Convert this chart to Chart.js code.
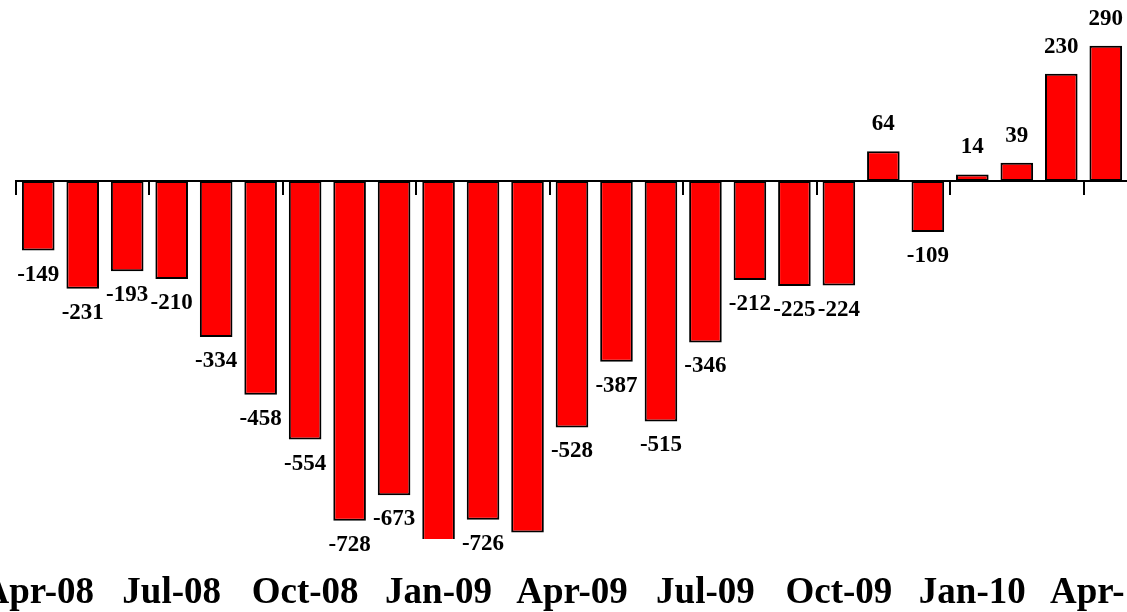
<!DOCTYPE html>
<html>
<head>
<meta charset="utf-8">
<script src="https://cdn.jsdelivr.net/npm/chart.js@4/dist/chart.umd.min.js"></script>
<style>
  html, body { margin: 0; padding: 0; background: #fff; overflow: hidden; }
  #wrap { position: relative; width: 1130px; height: 612px; }
</style>
</head>
<body>
<div id="wrap"><canvas id="c"></canvas></div>
<script>
// Monthly change (thousands)
const months = ['Apr-08','May-08','Jun-08','Jul-08','Aug-08','Sep-08','Oct-08','Nov-08','Dec-08',
  'Jan-09','Feb-09','Mar-09','Apr-09','May-09','Jun-09','Jul-09','Aug-09','Sep-09','Oct-09',
  'Nov-09','Dec-09','Jan-10','Feb-10','Mar-10','Apr-10'];
const values = [-149,-231,-193,-210,-334,-458,-554,-728,-673,
  -779,-726,-753,-528,-387,-515,-346,-212,-225,-224,
  64,-109,14,39,230,290];
// value labels not shown in the original (bars running past the bottom)
const hiddenValueLabels = ['Jan-09','Mar-09'];
const tickLabels = ['Apr-08','Jul-08','Oct-08','Jan-09','Apr-09','Jul-09','Oct-09','Jan-10','Apr-10'];
const yMin = -767, yMax = 388;

const valueLabelPlugin = {
  id: 'valueLabels',
  afterDatasetsDraw(chart) {
    const ctx = chart.ctx;
    const meta = chart.getDatasetMeta(0);
    ctx.save();
    ctx.font = 'bold 23px "Liberation Serif", "Times New Roman", serif';
    ctx.fillStyle = '#000';
    ctx.textAlign = 'center';
    ctx.textBaseline = 'middle';
    meta.data.forEach((bar, i) => {
      if (hiddenValueLabels.includes(months[i])) return;
      const v = values[i];
      const y = v < 0 ? bar.y + 24 : bar.y - 27;
      ctx.fillText(String(v), bar.x, y);
    });
    ctx.restore();
  }
};

const axisLabelPlugin = {
  id: 'axisLabels',
  afterDraw(chart) {
    const ctx = chart.ctx;
    const xs = chart.scales.x;
    ctx.save();
    ctx.font = 'bold 37px "Liberation Serif", "Times New Roman", serif';
    ctx.fillStyle = '#000';
    ctx.textAlign = 'center';
    ctx.textBaseline = 'alphabetic';
    tickLabels.forEach(lbl => {
      const idx = months.indexOf(lbl);
      ctx.fillText(lbl, xs.getPixelForValue(idx), 603);
    });
    ctx.restore();
  }
};

new Chart(document.getElementById('c'), {
  type: 'bar',
  data: {
    labels: months,
    datasets: [{
      data: values,
      backgroundColor: '#FF0000',
      borderColor: '#000000',
      borderWidth: 2,
      borderSkipped: false,
      barPercentage: 0.733,
      categoryPercentage: 1.0
    }]
  },
  options: {
    responsive: true,
    maintainAspectRatio: false,
    devicePixelRatio: 1,
    animation: false,
    layout: { padding: { left: 16, right: 2, top: 0, bottom: 73 } },
    plugins: { legend: { display: false }, tooltip: { enabled: false } },
    scales: {
      x: {
        type: 'category',
        position: { y: 0 },
        offset: true,
        ticks: { display: false },
        grid: {
          offset: true,
          drawOnChartArea: false,
          drawTicks: true,
          tickLength: 13,
          lineWidth: 2,
          color: (c) => (c.index % 3 === 0 && c.index < months.length) ? '#000' : 'rgba(0,0,0,0)'
        },
        border: { display: true, color: '#000', width: 2 }
      },
      y: {
        display: false,
        min: yMin,
        max: yMax
      }
    }
  },
  plugins: [valueLabelPlugin, axisLabelPlugin]
});
</script>
</body>
</html>
